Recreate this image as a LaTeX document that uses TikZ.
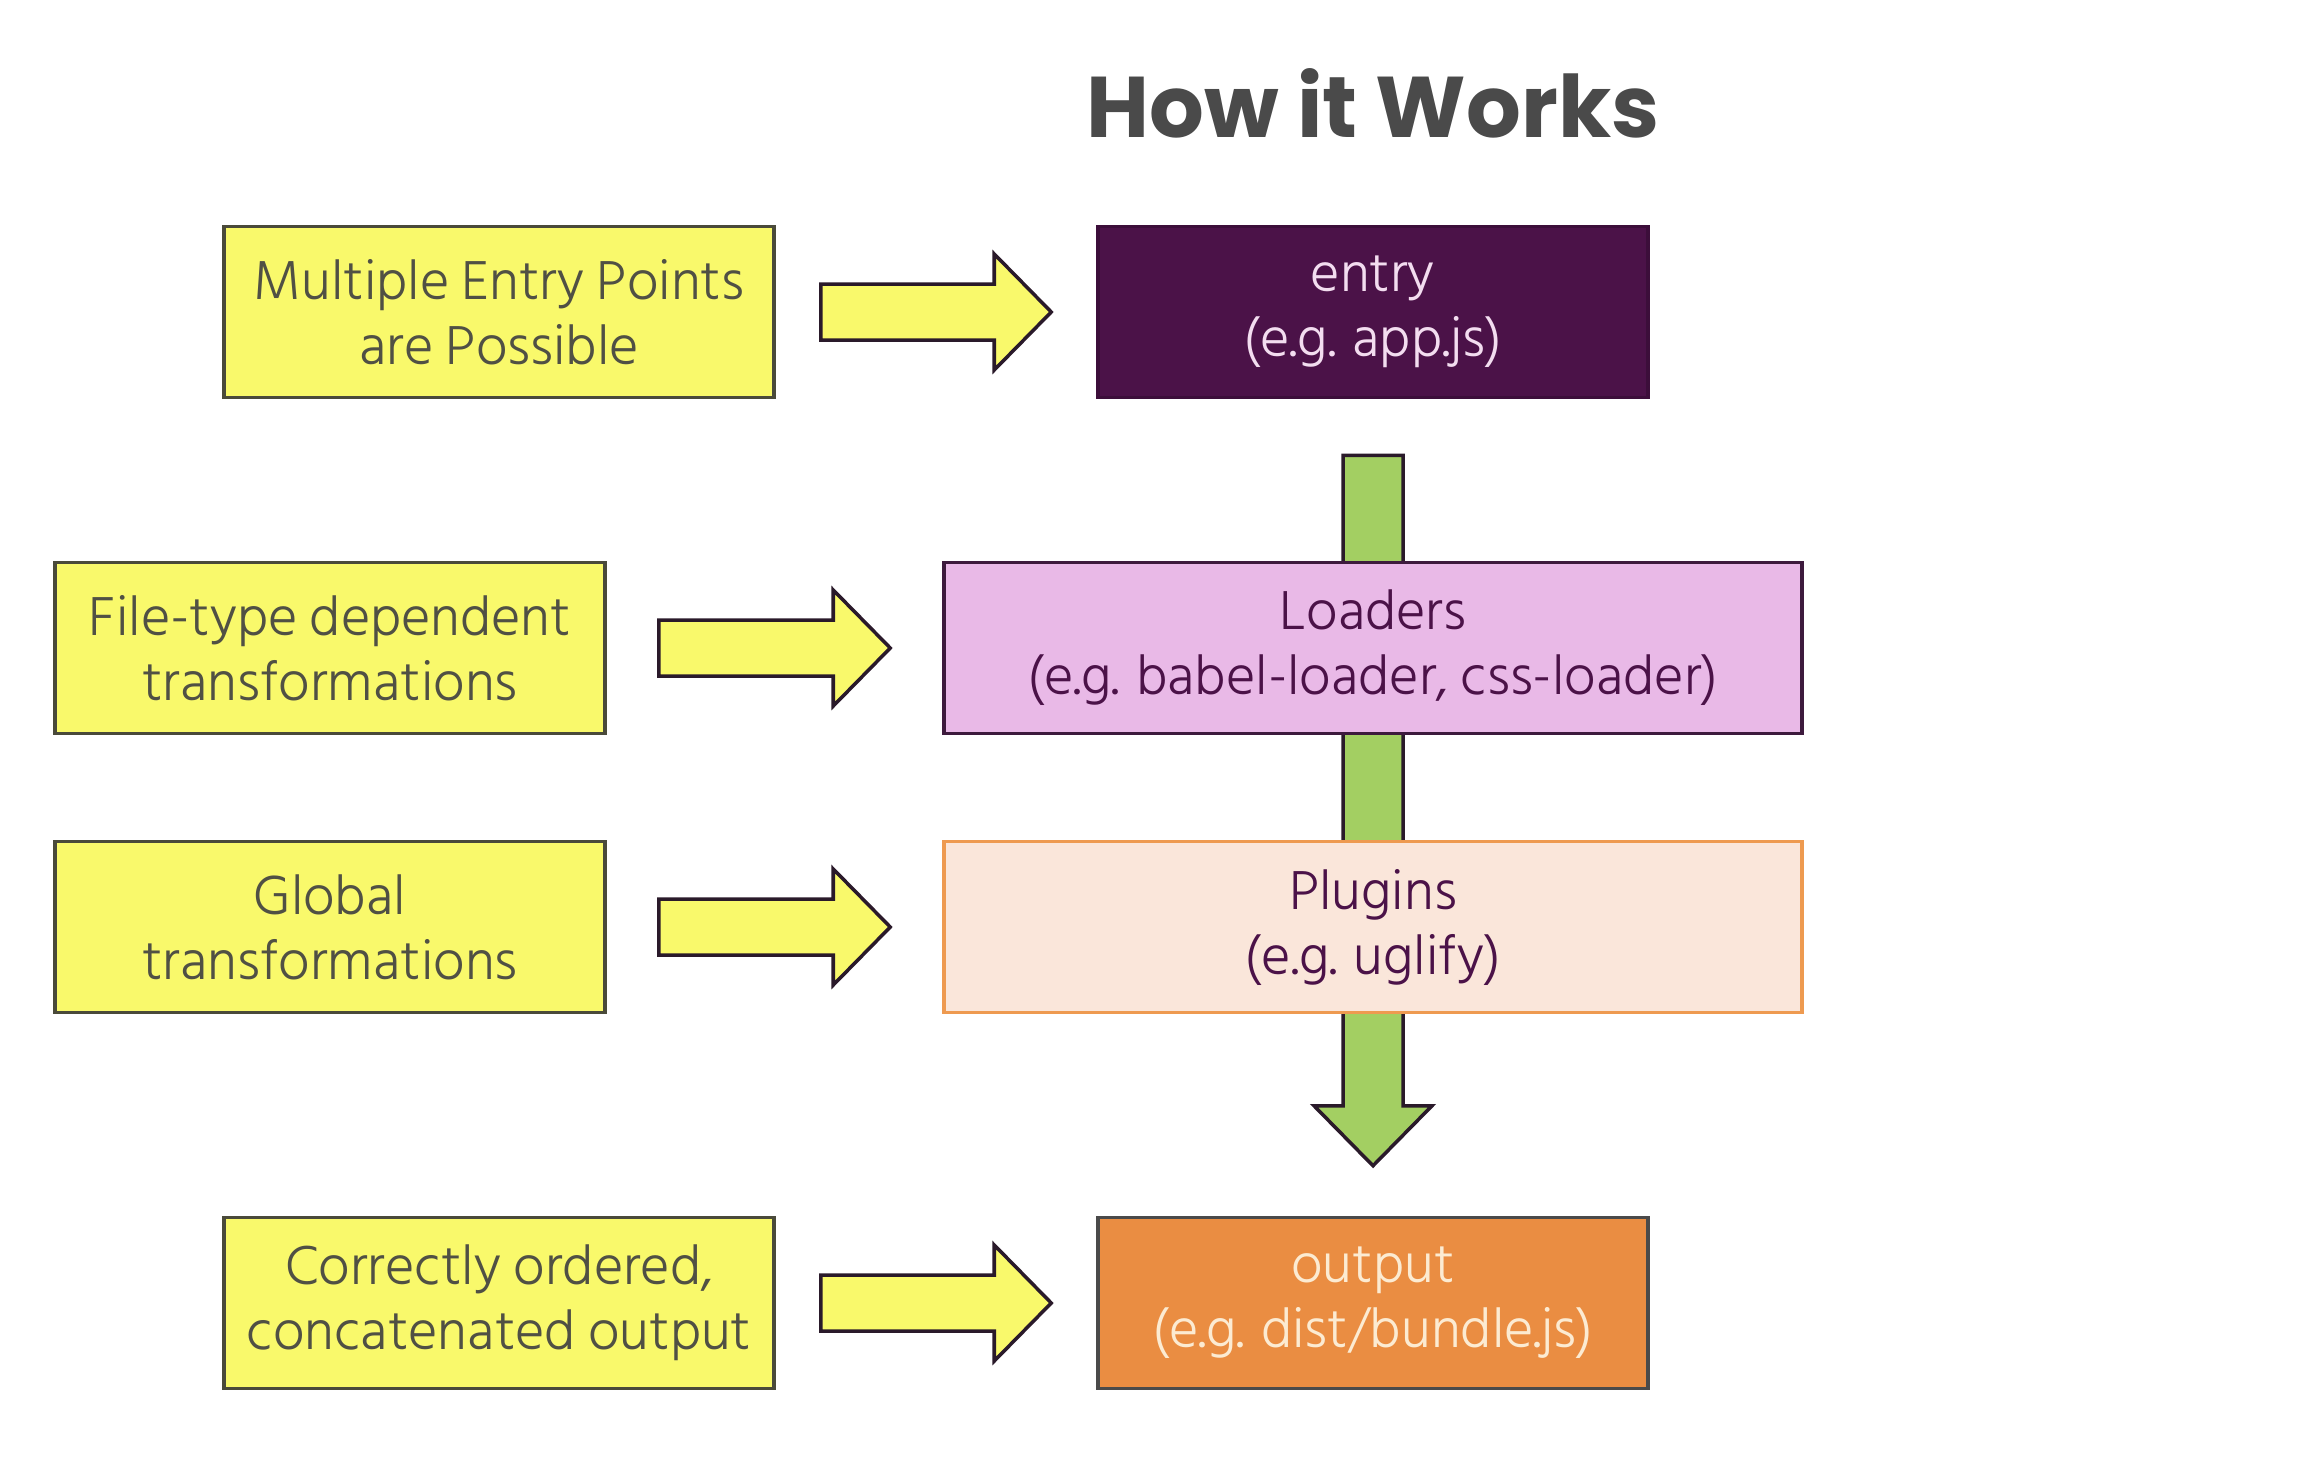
\documentclass[tikz,border=0pt]{standalone}
\usepackage{fontspec}
\setmainfont{Hind Siliguri Light}
\newfontfamily\titlefont{Poppins}
\usetikzlibrary{calc,backgrounds}

\definecolor{hintfill}{HTML}{F9F96B}
\definecolor{hintline}{HTML}{4A4A3A}
\definecolor{hinttext}{HTML}{505044}
\definecolor{arrowline}{HTML}{2A1A2A}
\definecolor{flowgreen}{HTML}{A3CF62}
\definecolor{entryfill}{HTML}{4B1248}
\definecolor{entrytext}{HTML}{F3DDF0}
\definecolor{loadfill}{HTML}{E9B9E7}
\definecolor{loadline}{HTML}{3D1A3D}
\definecolor{plugfill}{HTML}{FAE6DA}
\definecolor{plugline}{HTML}{EE9A50}
\definecolor{outfill}{HTML}{EA8D42}
\definecolor{outtext}{HTML}{FCEBD2}
\definecolor{titlegray}{HTML}{4A4A4A}

\tikzset{
  box/.style={draw, line width=1pt, minimum width=5.5cm, minimum height=1.71cm, inner sep=0pt, align=center, font=\fontsize{16}{18.5}\selectfont},
  widebox/.style={box, minimum width=8.58cm},
  hint/.style={box, fill=hintfill, draw=hintline, text=hinttext},
  fatarrow/.style={draw=arrowline, line width=1pt, line join=miter}
}

\newcommand{\rightfat}[3]{%
  \filldraw[fatarrow, fill=#3] let \p1 = (#1), \p2 = (#2) in
    (\x1,\y1-0.28cm) -- (\x2-0.57cm,\y1-0.28cm) -- (\x2-0.57cm,\y1-0.58cm) -- (\x2,\y1)
    -- (\x2-0.57cm,\y1+0.58cm) -- (\x2-0.57cm,\y1+0.28cm) -- (\x1,\y1+0.28cm) -- cycle;}

\begin{document}
\begin{tikzpicture}
\useasboundingbox (0,0) rectangle (23.06,-14.60);
\node[font=\titlefont\bfseries\fontsize{24.5}{28}\selectfont, text=titlegray] (title) at (13.73,-1.03) {How it Works};
\node[box, fill=entryfill, draw=entryfill!80!black, text=entrytext] (entry) at (13.73,-3.12) {entry\\(e.g. app.js)};
\node[widebox, fill=loadfill, draw=loadline, text=entryfill] (loaders) at (13.73,-6.48) {Loaders\\(e.g. babel-loader, css-loader)};
\node[widebox, fill=plugfill, draw=plugline, text=entryfill] (plugins) at (13.73,-9.27) {Plugins\\(e.g. uglify)};
\node[box, fill=outfill, draw=titlegray, text=outtext] (output) at (13.73,-13.03) {output\\(e.g. dist/bundle.js)};
\node[hint] (why) at (4.99,-3.12) {Multiple Entry Points\\are Possible};
\node[hint] (load) at (3.30,-6.48) {File-type dependent\\transformations};
\node[hint] (glob) at (3.30,-9.27) {Global\\transformations};
\node[hint] (bund) at (4.99,-13.03) {Correctly ordered,\\concatenated output};
\foreach \a/\b/\g in {why/entry/0.45, load/loaders/0.52, glob/plugins/0.52, bund/output/0.45}
  {\rightfat{$(\a.east)+(\g,0)$}{$(\b.west)-(\g,0)$}{hintfill}}
\begin{pgfonlayer}{background}
\filldraw[fatarrow, fill=flowgreen] let \p1 = ($(entry.south)+(0,-0.56)$), \p2 = ($(output.north)+(0,0.50)$) in
  (\x1-0.30cm,\y1) -- (\x1+0.30cm,\y1) -- (\x1+0.30cm,\y2+0.60cm) -- (\x1+0.59cm,\y2+0.60cm) -- (\x1,\y2)
  -- (\x1-0.59cm,\y2+0.60cm) -- (\x1-0.30cm,\y2+0.60cm) -- cycle;
\end{pgfonlayer}
\end{tikzpicture}
\end{document}
